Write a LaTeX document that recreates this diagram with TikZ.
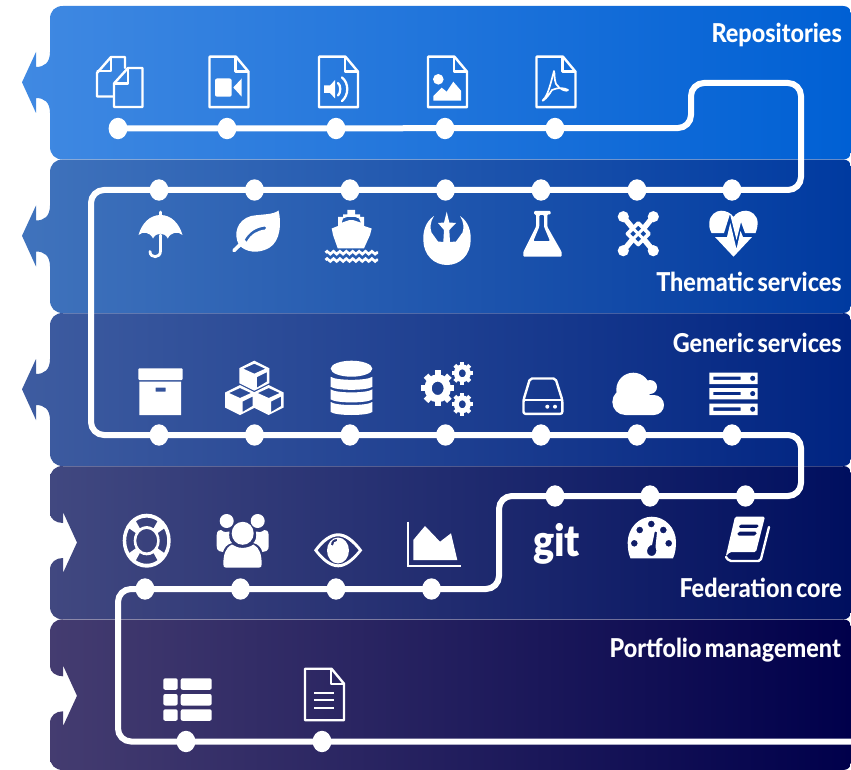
\documentclass[tikz,border=0pt]{standalone}
\usepackage{fontspec}
\usetikzlibrary{shapes.geometric,decorations.pathmorphing}
\newfontfamily\labfont{Lato Heavy}[FakeStretch=0.9,WordSpace=0.6]
\newfontfamily\gitfont{Lato Black}[FakeStretch=0.9]
\definecolor{la}{RGB}{64,137,226}\definecolor{ra}{RGB}{0,96,212}
\definecolor{lb}{RGB}{64,115,188}\definecolor{rb}{RGB}{0,58,160}
\definecolor{lc}{RGB}{62,92,160}\definecolor{rc}{RGB}{0,36,130}
\definecolor{ld}{RGB}{65,72,128}\definecolor{rd}{RGB}{0,15,95}
\definecolor{le}{RGB}{68,60,112}\definecolor{re}{RGB}{0,0,75}
\tikzset{
 dot/.style={ellipse,fill=white,draw=none,inner sep=0pt,minimum width=18.8pt,minimum height=21.4pt},
 route/.style={draw=white,line width=6pt,rounded corners=13pt},
 lab/.style={text=white,anchor=base east,inner sep=0pt,font=\labfont\fontsize{26}{30}\selectfont},
 iconline/.style={draw=white,line width=2.4pt,line join=round,line cap=round},
 iconfill/.style={fill=white,draw=none},
 iconcut/.style={fill=white,draw=none,even odd rule},
 seam/.style={draw=white,draw opacity=.22,line width=.7pt}
}
% outward arrow band: top, height, left colour, right colour
\newcommand\bandout[4]{\begin{scope}[shift={(0,#1)}]
 \path[left color=#3,right color=#4] (63,0) -- (843,0) .. controls (848,0) and (851,3) .. (851,8) -- (851,#2-8) .. controls (851,#2-3) and (848,#2) .. (843,#2) -- (63,#2) .. controls (55,#2) and (50,#2-5) .. (50,#2-13)
 -- (50,107) .. controls (50,96) and (44,92) .. (36,92) -- (36,107) -- (22,76.3) -- (36,46) -- (36,61) .. controls (44,61) and (50,57) .. (50,46) -- (50,13) .. controls (50,5) and (55,0) .. (63,0) -- cycle;
\end{scope}}
\newcommand\bandin[4]{\begin{scope}[shift={(0,#1)}]
 \path[left color=#3,right color=#4] (63,0) -- (843,0) .. controls (848,0) and (851,3) .. (851,8) -- (851,#2-8) .. controls (851,#2-3) and (848,#2) .. (843,#2) -- (63,#2) .. controls (55,#2) and (50,#2-5) .. (50,#2-13)
 -- (50,104) .. controls (50,96) and (56,92) .. (63,92) -- (63,107) -- (77,76.5) -- (63,46) -- (63,57) .. controls (56,57) and (50,53) .. (50,47) -- (50,13) .. controls (50,5) and (55,0) .. (63,0) -- cycle;
\end{scope}}
\newcommand\filepage[3]{%
 \draw[iconline] (#1,#2) -- (#1+26.5,#2) -- (#1+39,#2+15) -- (#1+39,#2+#3) -- (#1,#2+#3) -- cycle;
 \draw[iconline] (#1+26,#2+.5) -- (#1+26,#2+15) -- (#1+38.5,#2+15);}
\newcommand\cubeicon[2]{\fill[iconcut] (#1,#2-15) -- (#1+15,#2-7.5) -- (#1+15,#2+7.5) -- (#1,#2+15) -- (#1-15,#2+7.5) -- (#1-15,#2-7.5) -- cycle
 (#1,#2-12) -- (#1+11,#2-7) -- (#1,#2-2) -- (#1-11,#2-7) -- cycle
 (#1+2.5,#2+1.5) -- (#1+12.5,#2-3.5) -- (#1+12.5,#2+6) -- (#1+2.5,#2+12) -- cycle;}
\newcommand\dbrow[1]{\fill[iconfill] (330.7,#1) .. controls (336,#1+4) and (367,#1+4) .. (372.3,#1) -- (372.3,#1+10) .. controls (367,#1+14) and (336,#1+14) .. (330.7,#1+10) -- cycle;}
\newcommand\gearicon[4]{\begin{scope}[shift={(#1,#2)},yscale=1.08]
 \pgfmathsetmacro\gw{.8*#3-#4}\pgfmathsetmacro\gm{(.8*#3+#4)/2}\pgfmathsetmacro\gt{.38*#3}\pgfmathsetmacro\gi{.72*#3}
 \draw[white,line width=\gw pt] (0,0) circle[radius=\gm pt];
 \foreach \k in {0,...,7} \draw[white,line width=\gt pt] ({\k*45}:\gi pt) -- ({\k*45}:#3 pt);
\end{scope}}
\newcommand\srvrow[1]{\fill[iconcut] (709.3,#1) rectangle (757.7,#1+11.4) (713.3,#1+3.8) rectangle (740.7,#1+7.2) (752.7,#1+5.6) circle[radius=2.7pt];}
\newcommand\liferingseg[1]{(#1-32:20.5pt) arc[start angle=#1-32,end angle=#1+32,radius=20.5pt] -- (#1+32:13pt) arc[start angle=#1+32,end angle=#1-32,radius=13pt] -- cycle}
\begin{document}
\begin{tikzpicture}[x=1pt,y=-1pt]
\useasboundingbox (0,0) rectangle (851,770);
\fill[white] (0,0) rectangle (851,770);
% bands
\bandout{6}{153.5}{la}{ra}
\bandout{159.5}{153.5}{lb}{rb}
\bandout{313}{153}{lc}{rc}
\bandin{466}{153.3}{ld}{rd}
\bandin{619.3}{150.7}{le}{re}
\draw[seam] (63,159.5) -- (843,159.5);
\draw[seam] (63,313) -- (843,313);
\draw[seam] (63,466) -- (843,466);
\draw[seam] (63,619.3) -- (843,619.3);
% route corners
\coordinate (ca) at (691,128);\coordinate (cb) at (691,83);\coordinate (cc) at (801,83);\coordinate (cd) at (801,190);
\coordinate (ce) at (91,190);\coordinate (cf) at (91,435);\coordinate (cg) at (801,435);\coordinate (ch) at (801,496);
\coordinate (ci) at (499,496);\coordinate (cj) at (499,589);\coordinate (ck) at (118,589);\coordinate (cl) at (118,741.5);
\coordinate (cm) at (851,741.5);
% dots
\foreach \n/\x in {a1/118,a2/227,a3/336,a4/445,a5/555} \node[dot] (\n) at (\x,128.5) {};
\foreach \n/\x in {b1/159,b2/254.5,b3/350,b4/445.5,b5/541,b6/637,b7/732} \node[dot] (\n) at (\x,190) {};
\foreach \n/\x in {c1/159,c2/254.5,c3/350,c4/445.5,c5/541,c6/637,c7/732} \node[dot] (\n) at (\x,435) {};
\foreach \n/\x in {d1/555,d2/650,d3/745.5} \node[dot] (\n) at (\x,496) {};
\foreach \n/\x in {e1/145,e2/240.5,e3/336,e4/431.5} \node[dot] (\n) at (\x,589) {};
\foreach \n/\x in {f1/186,f2/322} \node[dot] (\n) at (\x,741.5) {};
\draw[route] (a1.center) -- (ca) -- (cb) -- (cc) -- (cd) -- (ce) -- (cf) -- (cg) -- (ch) -- (ci) -- (cj) -- (ck) -- (cl) -- (cm);
% labels
\node[lab] (lr) at (842,42.7) {Repositories};
\node[lab] (lt) at (842,291) {Thematic services};
\node[lab] (lg) at (842,352.7) {Generic services};
\node[lab] (lf) at (842,597) {Federation core};
\node[lab] (lp) at (841,657) {Portfolio management};
% copy
\draw[iconline] (113,96.5) -- (97,96.5) -- (97,73) -- (111,57) -- (125,57) -- (125,68);
\draw[iconline] (111,57.5) -- (111,71) -- (97.5,71);
\draw[iconline] (114,83.5) -- (128,68) -- (142.5,68) -- (142.5,107) -- (114,107) -- cycle;
\draw[iconline] (128,68.5) -- (128,83.5) -- (114.5,83.5);
% video
\filepage{209.5}{56.7}{50.5}
\fill[iconfill,rounded corners=2pt] (215,78.5) rectangle (231.7,96.7);
\fill[iconfill] (241.7,78.5) -- (233.3,87.5) -- (241.7,96.7) -- cycle;
% audio
\filepage{319}{56.7}{50.5}
\fill[iconfill] (324,85.5) -- (330,85.5) -- (335,80) -- (335,98.5) -- (330,93) -- (324,93) -- cycle;
\draw[iconline,line width=2.3pt] (338,83) .. controls (341,85) and (341,93) .. (338,95.5);
\draw[iconline,line width=2.3pt] (342,77.5) .. controls (349,83) and (349,95) .. (342,101);
% image
\filepage{428}{56.7}{50.5}
\fill[iconfill] (438.3,79.3) circle[radius=5.3pt];
\fill[iconfill] (433.3,100.7) -- (433.3,96) -- (441.7,87.7) -- (446.7,91.7) -- (453.3,81.7) -- (461,90.7) -- (461,100.7) -- cycle;
% pdf
\filepage{536.5}{56.7}{50.5}
\draw[white,line width=1.7pt,line join=round] (554,71) .. controls (551,82) and (548,96) .. (543,100) .. controls (541,102) and (546,100) .. (552,90) .. controls (558,87) and (565,88) .. (568,90) .. controls (567,92) and (560,90) .. (556,84) .. controls (554,79) and (555,74) .. (554,71) -- cycle;
% umbrella
\fill[iconfill] (138.5,235) .. controls (142,223) and (150,215) .. (160.5,215) .. controls (171,215) and (179,223) .. (182.5,235) .. controls (178,231) and (171,232) .. (167.7,238.5) .. controls (165,232) and (156,232) .. (153,238.5) .. controls (150,232) and (143,231) .. (138.5,235) -- cycle;
\draw[white,line width=2.8pt,line cap=round] (160.5,212) -- (160.5,215);
\draw[white,line width=2.8pt,line cap=round] (160.5,235) -- (160.5,251) .. controls (160.5,258.5) and (150,258.5) .. (150,251.5);
% leaf
\fill[iconcut] (278.5,210.5) .. controls (281.5,222) and (281,241) .. (269,248) .. controls (258,254) and (246,252.5) .. (239,245) .. controls (233,234) and (237,220) .. (251,216) .. controls (262,214) and (273,215) .. (278.5,210.5) -- cycle
 (244.5,240) .. controls (249,232) and (256,227.5) .. (265,226.5) .. controls (266.5,226.5) and (266.5,229) .. (265,229.5) .. controls (257,230.5) and (251,234) .. (246.5,242) -- cycle;
\draw[white,line width=3.6pt,line cap=round] (234,250.5) -- (244,241);
% ship
\fill[iconcut] (347.3,210) -- (355,210) -- (355,214.5) -- (360,214.5) -- (360,217) -- (364,217) -- (364,226) -- (371.7,228.5) -- (370,235) -- (364,248.3) -- (337.7,248.3) -- (333,235) -- (331.7,228.5) -- (338,226) -- (338,217) -- (343,217) -- (343,214.5) -- (347.3,214.5) -- cycle
 (341.7,222.7) -- (343,218.5) -- (347.5,216.8) -- (355,216.8) -- (359,218.5) -- (361,222.7) -- (353,220) -- (349.5,220) -- cycle;
\draw[white,line width=2.6pt,decorate,decoration={zigzag,segment length=6.4pt,amplitude=1.4pt}] (325.5,252.7) -- (378,252.7);
\draw[white,line width=2.6pt,decorate,decoration={zigzag,segment length=6.4pt,amplitude=1.4pt}] (325.5,260) -- (378,260);
% rebel
\fill[iconfill] (434,216) .. controls (425,222) and (423,232) .. (423.3,240) .. controls (423.5,255) and (434,265) .. (447,265) .. controls (460,265) and (470.5,255) .. (470.7,240) .. controls (471,232) and (469,222) .. (460,216) .. controls (464,222) and (464,228) .. (462.5,232.5) -- (456,241.5) -- (450,242) -- (449.3,230) -- (456,223) -- (449.3,222.5) -- (446.7,211.7) -- (444,222.5) -- (438,223) -- (444,230) -- (443.3,242) -- (438,241.5) -- (431.5,232.5) .. controls (430,228) and (430,222) .. (434,216) -- cycle;
% flask
\fill[iconcut,rounded corners=1pt] (534,211) -- (550.7,211) -- (550.7,214.3) -- (547.3,214.3) -- (547.3,226.7) -- (561.7,252) -- (561.7,256.7) -- (523.3,256.7) -- (523.3,252) -- (536,226.7) -- (536,214.3) -- (534,214.3) -- cycle
 (539.3,215) -- (544,215) -- (544,226.7) -- (550,241) -- (533.3,241) -- (539.3,226.7) -- cycle;
% joomla
\foreach \x/\y in {623.3/216.7,653.3/216.7,623.3/250.7,653.3/250.7} \fill[iconfill] (\x,\y) circle[radius=5.6pt];
\draw[white,line width=3.8pt,line join=round] (638.3,223) -- (649,233.7) -- (638.3,244.5) -- (627.5,233.7) -- cycle;
\draw[white,line width=5.5pt] (623.3,216.7) -- (632.6,228);
\draw[white,line width=5.5pt] (653.3,216.7) -- (644,228);
\draw[white,line width=5.5pt] (623.3,250.7) -- (632.6,239.4);
\draw[white,line width=5.5pt] (653.3,250.7) -- (644,239.4);
\draw[white,line width=3pt] (632.6,228) -- (644,239.4) (644,228) -- (632.6,239.4);
% heartbeat
\fill[iconfill] (711.5,233) .. controls (709,228) and (709,225) .. (709.3,223) .. controls (709.5,215) and (716,210.7) .. (721,210.7) .. controls (726,210.7) and (731,213) .. (733.5,217) .. controls (736,213) and (741,210.7) .. (746,210.7) .. controls (751,210.7) and (757.5,215) .. (757.7,223) .. controls (757.7,226) and (757,229) .. (755.5,233) -- (745,233) -- (741,222) -- (736.5,240) -- (730,214) -- (724,233) -- cycle;
\fill[iconfill] (715,237) -- (727,237) -- (730.3,223) -- (736.5,249) -- (740.5,231) -- (743,237) -- (752,237) -- (733.5,256.7) -- cycle;
% archive
\fill[iconfill,rounded corners=1pt] (138.3,368.3) rectangle (182.7,380);
\fill[iconcut] (139.3,381.7) rectangle (181,415) (155.7,387.7) rectangle (165.7,391.7);
% cubes
\cubeicon{254.3}{375.7}\cubeicon{240}{400}\cubeicon{268.7}{400}
% database
\fill[iconfill] (351.5,368.7) ellipse[x radius=20.8pt,y radius=8pt];
\dbrow{376.8}\dbrow{389.4}\dbrow{402}
% cogs
\gearicon{437.7}{388.3}{16.5}{6}
\gearicon{462.3}{373.3}{10.5}{3.5}
\gearicon{462.3}{404.3}{10.5}{3.5}
% hdd
\draw[iconline,line width=2.4pt,rounded corners=2pt] (523.5,400) -- (530,378.5) -- (555.5,378.5) -- (562.3,400) -- (562.3,413.8) -- (523.5,413.8) -- cycle;
\draw[iconline,line width=2.4pt] (523.5,400) -- (562.3,400);
\fill[iconfill] (547.3,406.7) circle[radius=2pt] (555,406.7) circle[radius=2pt];
% cloud
\fill[iconfill] (633.3,389.7) circle[radius=17pt] (650,387) circle[radius=7pt] (654,405) circle[radius=10pt] (625.3,402) circle[radius=13pt] (625.3,395) rectangle (654,415);
% server
\srvrow{372.7}\srvrow{388}\srvrow{403.6}
% life ring
\begin{scope}[shift={(146.7,540.7)},yscale=1.125]
\fill[iconcut] (0,0) circle[radius=24pt] circle[radius=10.5pt]
 \liferingseg{0} \liferingseg{90} \liferingseg{180} \liferingseg{270};
\end{scope}
% users
\fill[iconfill] (226.7,521) circle[radius=7pt] (257.7,521) circle[radius=7pt];
\fill[iconfill] (242.7,533.3) ellipse[x radius=11pt,y radius=11.5pt];
\fill[iconfill] (216.7,535) .. controls (217,531) and (219,529.5) .. (221,530) .. controls (224,532.5) and (227,532.5) .. (229.5,531.5) .. controls (228.5,536) and (229.5,541) .. (232,543) .. controls (227,544) and (224,548) .. (223,552) -- (219,551) .. controls (217,550) and (216.7,548) .. (216.7,546) -- cycle;
\fill[iconfill] (268.7,535) .. controls (268.4,531) and (266.4,529.5) .. (264.4,530) .. controls (261.4,532.5) and (258.4,532.5) .. (255.9,531.5) .. controls (256.9,536) and (255.9,541) .. (253.4,543) .. controls (258.4,544) and (261.4,548) .. (262.4,552) -- (266.4,551) .. controls (268.4,550) and (268.7,548) .. (268.7,546) -- cycle;
\fill[iconfill] (226,567.7) .. controls (224,567.7) and (223.3,566.5) .. (223.3,564) .. controls (223.5,555) and (225,548) .. (232,544.5) .. controls (238,549) and (247,549) .. (253.5,544.5) .. controls (260,548) and (261.5,555) .. (261.7,564) .. controls (261.7,566.5) and (261,567.7) .. (259,567.7) -- cycle;
% eye
\fill[iconcut] (314,550.3) .. controls (322,539) and (330,533.3) .. (338.2,533.3) .. controls (346,533.3) and (354,539) .. (362.3,550.3) .. controls (354,561) and (346,567.3) .. (338.2,567.3) .. controls (330,567.3) and (322,561) .. (314,550.3) -- cycle
 (317.5,550.3) .. controls (324,542) and (331,536.3) .. (338.2,536.3) .. controls (345,536.3) and (352,542) .. (358.8,550.3) .. controls (352,558.5) and (345,564.3) .. (338.2,564.3) .. controls (331,564.3) and (324,558.5) .. (317.5,550.3) -- cycle
 (338,550.5) ellipse[x radius=11pt,y radius=13pt]
 (331,545) .. controls (331,541) and (333.5,539) .. (337,539) -- (337,541) .. controls (334.5,541) and (333,543) .. (333,545.5) -- cycle;
% area chart
\draw[white,line width=2.3pt] (407.7,521.7) -- (407.7,566) -- (461,566);
\fill[iconfill] (413.3,540) -- (425,526) -- (440,541.7) -- (451,533.3) -- (457.3,560) -- (413.3,560) -- cycle;
% git
\node[text=white,anchor=base,inner sep=0pt,font=\gitfont\fontsize{44}{44}\selectfont] (git) at (556.5,556.7) {git};
% dashboard
\fill[iconcut] (630.5,558.3) .. controls (628,553) and (627.7,547) .. (627.7,542) .. controls (628,528) and (639,516.7) .. (651.8,516.7) .. controls (665,516.7) and (676,528) .. (676,542) .. controls (676,547) and (675.5,553) .. (673,558.3) -- cycle
 (634.3,543.3) circle[radius=3.4pt] (639.7,530) circle[radius=3.4pt] (651.3,524) circle[radius=3.4pt] (663.3,530) circle[radius=3.4pt] (668.7,543.3) circle[radius=3.4pt]
 (654.8,531.5) -- (657,532) -- (655.5,547) .. controls (658,552) and (655,556) .. (651.7,556) .. controls (648,556) and (645.5,552) .. (648,547.5) .. controls (649.5,545.5) and (651,545) .. (652,545) -- cycle;
% book
\fill[iconcut,rounded corners=1.5pt] (735,516.7) -- (765,516.7) -- (756,552) -- (730,552) -- (725.7,556.7) -- cycle
 (739.5,524.5) -- (759,524.5) -- (758,528) -- (738.5,528) -- cycle
 (738,531.7) -- (757,531.7) -- (756,535.5) -- (737,535.5) -- cycle;
\draw[iconline,rounded corners=2pt] (769,527) -- (760.5,561) -- (729,561) -- (726,557);
% th-list
\foreach \y in {678.3,694,709.3} {
 \fill[iconfill,rounded corners=2pt] (163.3,\y) rectangle (177.7,\y+11.5);
 \fill[iconfill,rounded corners=2pt] (180.7,\y) rectangle (211.7,\y+11.5);}
% file text
\filepage{305}{668.7}{51.5}
\draw[white,line width=2.2pt] (314,692.7) -- (334.3,692.7) (314,700.3) -- (334.3,700.3) (314,708) -- (334.3,708);
\end{tikzpicture}
\end{document}
